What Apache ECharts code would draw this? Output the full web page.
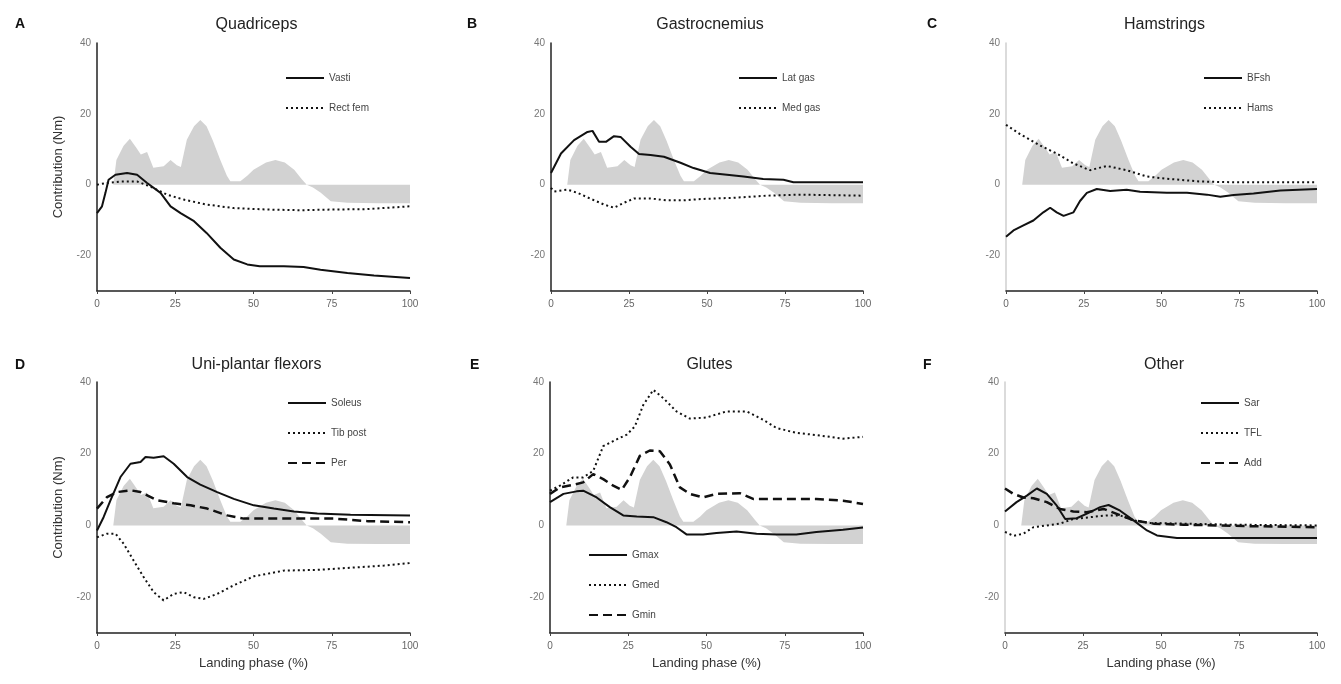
<!DOCTYPE html>
<html><head><meta charset="utf-8">
<script src="https://cdn.jsdelivr.net/npm/echarts@6/dist/echarts.min.js"></script>
<style>html,body{margin:0;padding:0;background:#fff}#c{width:1341px;height:684px}</style>
</head><body><div id="c"></div>
<script>
// ---- data (x = landing phase %, y = contribution Nm) ----
const xTicks = [0, 25, 50, 75, 100];
const yTickLabels = [40, 20, 0, -20];
const titles = ['Quadriceps', 'Gastrocnemius', 'Hamstrings', 'Uni-plantar flexors', 'Glutes', 'Other'];
const letters = ['A', 'B', 'C', 'D', 'E', 'F'];
const yName = 'Contribution (Nm)';
const xName = 'Landing phase (%)';

// shaded reference (same in every panel)
const shaded = [[0,0],[5.2,0],[6.2,7],[8.5,11],[10.5,13],[12.5,10.5],[14,8.5],[16,9.2],[18,4.8],[21.3,5.2],[23.5,7],[25.5,5.5],[26.8,5],[28.7,12.7],[31,16.5],[33,18.3],[35,16.5],[37,12.5],[39.4,7],[41.5,2.5],[42.6,1],[45.8,1],[48,2.5],[50,4.2],[54,6.3],[57,7],[60,6.3],[63,4.2],[65.5,1.5],[67,0],[69,-0.8],[71.5,-2.3],[74.7,-4.7],[80,-5.1],[90,-5.2],[100,-5.2]];

const quadVasti = [[0,-8],[1.6,-6.1],[2.7,-2.3],[3.7,1.4],[5.9,2.8],[9.6,3.3],[12.8,2.8],[16,0.5],[20.3,-2.3],[23.5,-6.1],[26.7,-8],[31,-10.3],[35,-13.6],[39.4,-17.8],[43.7,-21.1],[48,-22.5],[52,-23],[59.7,-23],[66,-23.2],[71.4,-24],[80,-24.9],[88.5,-25.6],[100,-26.3]];
const quadRectFem = [[0,0],[3.2,0.5],[7.5,0.9],[12.8,0.9],[17,-0.5],[22.4,-2.8],[27.7,-4.2],[35,-5.6],[43.7,-6.6],[54.4,-7],[65,-7.2],[75.7,-7],[86,-6.9],[100,-6.1]];

const gasLat = [[0,3.3],[3.2,8.8],[7.4,12.6],[11.7,14.9],[13.3,15.2],[15.4,12.1],[17.6,12.1],[20.2,13.7],[22.3,13.5],[25.5,10.7],[28.2,8.7],[31.9,8.4],[36.2,7.9],[41.5,6.2],[45.7,4.7],[51,3.3],[56.4,2.8],[61.7,2.3],[68,1.6],[74.5,1.4],[77.7,0.7],[85,0.7],[100,0.7]];
const gasMed = [[0,-0.9],[1,-1.9],[5.3,-1.4],[8.5,-2.3],[12.8,-4],[17,-5.6],[20.2,-6.5],[23.4,-5.1],[26.6,-3.9],[31.9,-3.9],[37.2,-4.4],[42.5,-4.4],[49,-4],[58.5,-3.7],[69,-3.1],[79.8,-2.8],[100,-3.1]];

const hamBFsh = [[0,-14.7],[2.4,-12.9],[5.6,-11.5],[8.8,-10.1],[12,-7.8],[14.2,-6.5],[16.3,-7.8],[18.5,-8.8],[21.7,-7.8],[23.8,-4.6],[26,-2.3],[29.2,-1.2],[33.5,-1.8],[38.8,-1.4],[43.1,-2],[51.7,-2.3],[58.2,-2.3],[64.6,-2.8],[68.9,-3.4],[73.2,-2.9],[79.6,-2.5],[88.2,-1.6],[100,-1.2]];
const hamHams = [[0,16.9],[4.5,14.3],[10.9,11.1],[16.3,8.8],[21.7,6],[27,4.1],[32.4,5.3],[38.8,4.1],[45.3,2.3],[51.7,1.7],[62.4,0.9],[73.2,0.7],[100,0.7]];

const plSoleus = [[0,-1.4],[2.1,2.3],[4.3,7],[7.5,13.5],[10.7,17.2],[13.9,17.7],[15.5,19.1],[18.1,18.9],[21.3,19.3],[24.5,17.2],[28.8,13.5],[33,11.4],[38.4,9.3],[43.7,7.4],[50.1,5.6],[56.5,4.7],[62.9,3.9],[70.4,3.3],[81,3],[100,2.8]];
const plTibPost = [[0,-3.3],[3.2,-2.3],[5.9,-2.3],[8.5,-5.1],[11.7,-9.8],[14.9,-14.4],[18.1,-18.6],[21.3,-20.9],[24.5,-19.1],[27.7,-18.6],[30.9,-20],[34.1,-20.5],[38.4,-19.1],[43.7,-16.7],[50.1,-14.2],[59.7,-12.6],[70.4,-12.4],[81,-11.8],[91.7,-11.2],[100,-10.5]];
const plPer = [[0,4.7],[3.2,7.9],[6.4,9.3],[10.7,9.8],[13.9,9.3],[19.2,7],[24.5,6.2],[29.9,5.6],[35.2,4.7],[41.6,2.8],[46.9,1.9],[54.4,1.9],[65,1.9],[75.7,1.9],[86.4,1.2],[100,0.9]];

const gluGmax = [[0,6.5],[4.3,8.8],[8.5,9.5],[10.6,9.7],[14.9,7.8],[19.1,5.1],[23.4,2.8],[27.7,2.5],[33,2.3],[37.2,0.9],[40.4,-0.5],[43.6,-2.5],[48.9,-2.5],[53.2,-2.1],[59.6,-1.7],[66,-2.3],[72.3,-2.5],[78.7,-2.5],[85.1,-1.8],[93.6,-1.2],[100,-0.6]];
const gluGmed = [[0,9.7],[3.2,11.1],[7.4,13.4],[10.6,13.4],[13.8,15.2],[17,22.1],[21.3,24],[24.5,25.3],[27.1,27.6],[29.8,33.6],[33,37.8],[36.2,35.5],[40.4,31.8],[44.7,29.8],[50,30.1],[56.4,31.8],[62.8,31.8],[68,29.5],[72.3,27.2],[78.7,25.8],[85.1,25.2],[93.6,24.2],[100,24.7]];
const gluGmin = [[0,8.8],[3.2,10.6],[7.4,11.3],[10.6,12],[13.8,14.3],[17,12.9],[20.2,11.1],[22.9,9.9],[25.5,13.4],[28.7,19.4],[31.9,20.9],[35.1,20.7],[38.3,17],[41.5,10.6],[44.7,8.8],[48.9,7.8],[53.2,8.8],[60.6,9],[64.9,7.4],[74.5,7.4],[85.1,7.4],[93.6,6.9],[100,6]];

const othSar = [[0,3.9],[3.7,6.5],[7,8.3],[10.2,10.3],[13.4,8.8],[16.6,5.5],[19.3,1.8],[23,2],[27.3,3.7],[30.5,5.1],[33.2,5.7],[36.9,4.1],[41.2,1.4],[45.5,-1.4],[48.7,-2.8],[55.1,-3.5],[62.6,-3.5],[73.3,-3.5],[84,-3.5],[100,-3.5]];
const othTfl = [[0,-1.8],[2.7,-2.9],[5.9,-2.3],[9.1,-0.5],[13.4,0],[17.6,0.5],[21.9,1.8],[27.3,2.3],[32.6,2.8],[36.9,2.8],[41.2,1.4],[46.5,0.7],[57.2,0.5],[73.3,0.2],[100,0]];
const othAdd = [[0,10.3],[2.7,8.8],[5.9,7.8],[9.1,7.6],[13.4,6.5],[17.6,4.6],[21.9,3.9],[26.2,3.7],[31.6,4.6],[35.8,3.2],[41.2,1.4],[47.6,0.5],[57.2,0.2],[67.9,0],[78.6,-0.2],[100,-0.5]];

const legendNames = [
  ['Vasti', 'Rect fem'],
  ['Lat gas', 'Med gas'],
  ['BFsh', 'Hams'],
  ['Soleus', 'Tib post', 'Per'],
  ['Gmax', 'Gmed', 'Gmin'],
  ['Sar', 'TFL', 'Add']
];
const panelData = [
  [quadVasti, quadRectFem],
  [gasLat, gasMed],
  [hamBFsh, hamHams],
  [plSoleus, plTibPost, plPer],
  [gluGmax, gluGmed, gluGmin],
  [othSar, othTfl, othAdd]
];

// ---- layout ----
const grids = [
  {left: 97, top: 43, width: 313, height: 248},
  {left: 551, top: 43, width: 312, height: 248},
  {left: 1006, top: 43, width: 311, height: 248},
  {left: 97, top: 382, width: 313, height: 251},
  {left: 550, top: 382, width: 313, height: 251},
  {left: 1005, top: 382, width: 312, height: 251}
];
const legendPos = [
  {left: 285, top: 73}, {left: 738, top: 73}, {left: 1203, top: 73},
  {left: 287, top: 398}, {left: 588, top: 550}, {left: 1200, top: 398}
];
const lineTypes = ['solid', [2, 3], [9, 5]];
const lineWidths = [2, 2, 2.5];

const option = {
  animation: false,
  backgroundColor: '#fff',
  textStyle: {fontFamily: 'Liberation Sans, Arial, sans-serif'},
  grid: grids.map(g => Object.assign({containLabel: false}, g)),
  title: [],
  xAxis: [], yAxis: [], series: [], legend: []
};

grids.forEach((g, i) => {
  const bottomRow = i >= 3;
  const yAxisColor = (i === 2 || i === 5) ? '#cfcfcf' : '#222';
  option.title.push({
    text: titles[i], left: g.left + g.width / 2 - 2, top: bottomRow ? 352 : 12, textAlign: 'center',
    textStyle: {fontSize: 16, fontWeight: 'normal', color: '#222'}
  });
  option.title.push({
    text: letters[i], left: [10, 462, 922, 10, 465, 918][i], top: bottomRow ? 353 : 12,
    textStyle: {fontSize: 14, fontWeight: 'bold', color: '#111'}
  });
  option.xAxis.push({
    type: 'value', gridIndex: i, min: 0, max: 100, interval: 25,
    axisLine: {show: true, onZero: false, lineStyle: {color: '#222', width: 1.5}},
    axisTick: {show: true, length: 3, lineStyle: {color: '#444'}},
    axisLabel: {fontSize: 10, color: '#666', margin: 8},
    splitLine: {show: false},
    name: bottomRow ? xName : '', nameLocation: 'middle', nameGap: 24,
    nameTextStyle: {fontSize: 13, color: '#333'}
  });
  option.yAxis.push({
    type: 'value', gridIndex: i, min: -30, max: 40, interval: 10,
    axisLine: {show: true, lineStyle: {color: yAxisColor, width: 1.5}},
    axisTick: {show: false},
    axisLabel: {fontSize: 10, color: '#777', margin: 6,
      formatter: v => yTickLabels.indexOf(v) >= 0 ? String(v) : ''},
    splitLine: {show: false},
    name: (i === 0 || i === 3) ? yName : '', nameLocation: 'middle', nameGap: 32,
    nameTextStyle: {fontSize: 13, color: '#333'}
  });
  option.series.push({
    type: 'line', xAxisIndex: i, yAxisIndex: i, data: shaded, symbol: 'none', silent: true,
    lineStyle: {width: 0, color: '#d2d2d2'}, areaStyle: {color: '#d2d2d2', opacity: 1}, z: 1
  });
  panelData[i].forEach((d, k) => {
    option.series.push({
      type: 'line', name: legendNames[i][k], xAxisIndex: i, yAxisIndex: i, data: d,
      symbol: 'none', smooth: false, color: '#111',
      lineStyle: {color: '#111', width: lineWidths[k], type: lineTypes[k]}, z: 3
    });
  });
  option.legend.push(Object.assign({
    orient: 'vertical', data: legendNames[i], padding: 0,
    itemWidth: 38, itemHeight: 10, itemGap: 20,
    itemStyle: {opacity: 0},
    textStyle: {fontSize: 10, color: '#444'}, selectedMode: false
  }, legendPos[i]));
});

const chart = echarts.init(document.getElementById('c'));
chart.setOption(option);
</script>
</body></html>
